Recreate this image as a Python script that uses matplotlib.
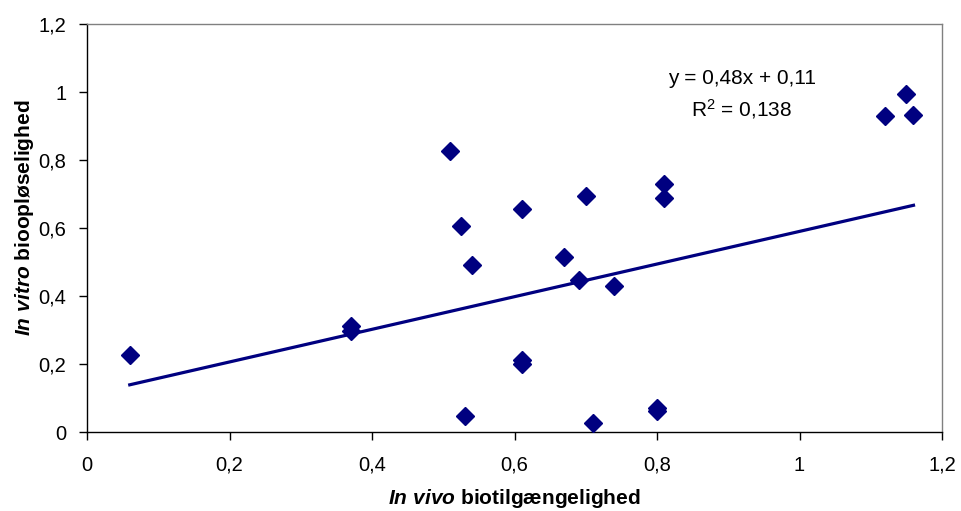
import matplotlib
matplotlib.use("Agg")
import matplotlib.pyplot as plt
from matplotlib.ticker import FuncFormatter

plt.rcParams['font.family'] = ['Liberation Sans', 'DejaVu Sans']
plt.rcParams['mathtext.fontset'] = 'custom'
plt.rcParams['mathtext.it'] = 'Liberation Sans:italic:bold'
plt.rcParams['mathtext.rm'] = 'Liberation Sans'

# Data
in_vivo = [0.06, 0.37, 0.37, 0.51, 0.525, 0.54, 0.53, 0.61, 0.61, 0.61,
           0.67, 0.69, 0.70, 0.71, 0.74, 0.80, 0.80, 0.81, 0.81,
           1.12, 1.15, 1.16]
in_vitro = [0.226, 0.311, 0.297, 0.826, 0.606, 0.492, 0.047, 0.655, 0.212, 0.200,
            0.515, 0.446, 0.694, 0.027, 0.430, 0.070, 0.063, 0.729, 0.688,
            0.930, 0.993, 0.932]

slope = 0.48
intercept = 0.11
r2 = 0.138
trend_x = [min(in_vivo), max(in_vivo)]
trend_y = [slope * x + intercept for x in trend_x]

x_ticks = [0, 0.2, 0.4, 0.6, 0.8, 1.0, 1.2]
y_ticks = [0, 0.2, 0.4, 0.6, 0.8, 1.0, 1.2]

fig = plt.figure(figsize=(9.61, 5.11), dpi=100)
ax = fig.add_axes([87/961, 1 - 432/511, (942-87)/961, (432-24)/511])

navy = '#000080'
ax.plot(trend_x, trend_y, color=navy, lw=2.3, zorder=2)
ax.plot(in_vivo, in_vitro, linestyle='none', marker='D', markersize=9.5,
        color=navy, zorder=3)

ax.set_xlim(0, 1.2)
ax.set_ylim(0, 1.2)
ax.set_xticks(x_ticks)
ax.set_yticks(y_ticks)

def comma(v, pos):
    s = ('%.1f' % v).rstrip('0').rstrip('.')
    return s.replace('.', ',')

ax.xaxis.set_major_formatter(FuncFormatter(comma))
ax.yaxis.set_major_formatter(FuncFormatter(comma))
ax.tick_params(axis='both', direction='out', length=6, width=1, labelsize=14.5,
               colors='black')
ax.tick_params(axis='x', pad=11)
ax.tick_params(axis='y', pad=9)

for s in ['left', 'bottom']:
    ax.spines[s].set_color('black')
    ax.spines[s].set_linewidth(1)
for s in ['top', 'right']:
    ax.spines[s].set_color('#808080')
    ax.spines[s].set_linewidth(1)

fig.text(514/961, 1 - 498/511, r'$\mathit{In\ vivo}$ biotilgængelighed',
         fontsize=15, fontweight='bold', ha='center', va='center')
fig.text(25/961, 1 - 218/511, r'$\mathit{In\ vitro}$ biooploselighed'.replace('oplos', 'opløs'),
         fontsize=15, fontweight='bold', ha='center', va='center', rotation=90)

eq = 'y = %sx + %s' % (('%.2f' % slope).replace('.', ','), ('%.2f' % intercept).replace('.', ','))
ax.text(0.919, 1.040, eq, ha='center', va='center', fontsize=15)
ax.text(0.919, 0.951, 'R$^2$ = ' + ('%.3f' % r2).replace('.', ','),
        ha='center', va='center', fontsize=15)

fig.savefig('out.png', dpi=100)
